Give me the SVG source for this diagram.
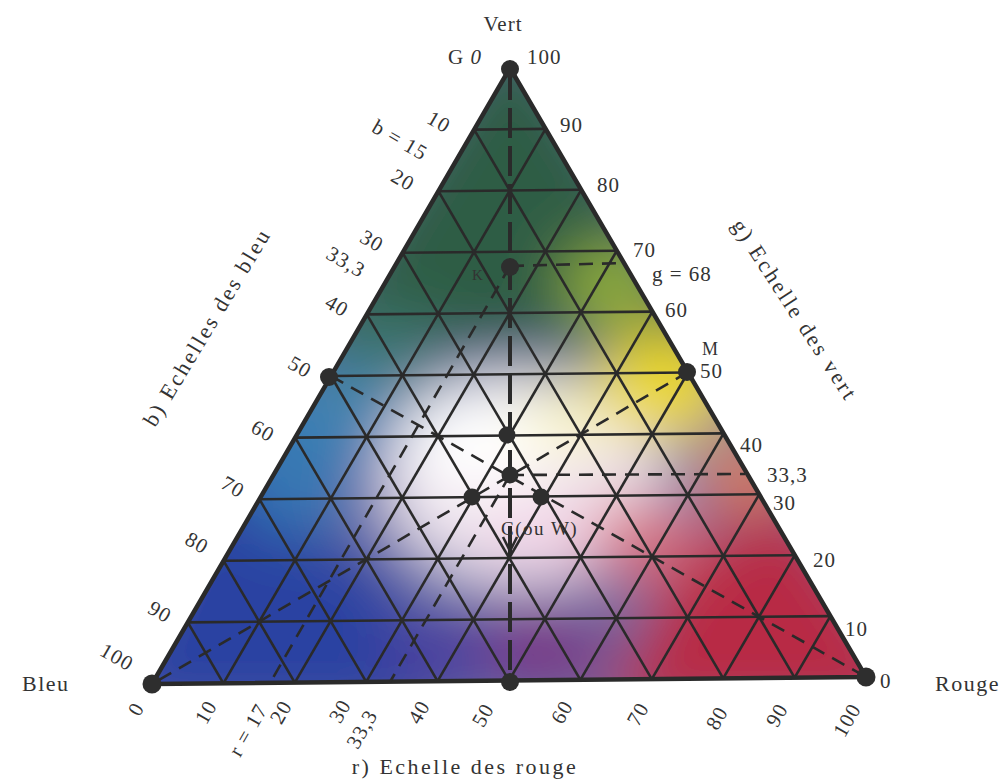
<svg xmlns="http://www.w3.org/2000/svg" width="1000" height="783" viewBox="0 0 1000 783">
<style>
  text{font-family:"Liberation Serif","DejaVu Serif",serif;fill:#333;font-size:21px;letter-spacing:1px}
  .title{font-size:22px;letter-spacing:2.5px}
  .grid line{stroke:#2a2a2a;stroke-width:2.6}
  .edge{fill:none;stroke:#2a2a2a;stroke-width:4.5;stroke-linejoin:round}
  .dash{stroke:#2a2a2a;stroke-width:2.6;stroke-dasharray:14 9;fill:none}
  .vdash{stroke:#2a2a2a;stroke-width:4;stroke-dasharray:30 8;fill:none}
  .dot{fill:#2e2e2e}
  .c{text-anchor:middle;dominant-baseline:central}
</style>
<defs>
  <clipPath id="tri"><polygon points="510,68 152,684 866,677"/></clipPath>
  <filter id="blur" x="-20%" y="-20%" width="140%" height="140%"><feGaussianBlur stdDeviation="30"/></filter>
</defs>
<rect width="1000" height="783" fill="#ffffff"/>

<g id="colour-field" clip-path="url(#tri)">
  <rect x="100" y="40" width="820" height="680" fill="#6a70a8"/>
  <g filter="url(#blur)">
    <rect x="60" y="0" width="900" height="760" fill="#6a70a8"/>
    <ellipse cx="525" cy="480" rx="140" ry="105" fill="#eee4ee"/>
    <polygon points="510,0 290,355 730,345" fill="#2d5d45"/>
    <ellipse cx="385" cy="350" rx="55" ry="40" fill="#3e7670"/>
    <ellipse cx="612" cy="285" rx="48" ry="42" fill="#93b03a"/>
    <polygon points="90,720 210,450 400,580 430,720" fill="#2b43a2"/>
    <ellipse cx="295" cy="455" rx="60" ry="80" fill="#3678b4"/>
    <ellipse cx="345" cy="405" rx="45" ry="40" fill="#3f86b0"/>
    <polygon points="600,720 680,540 800,500 950,720" fill="#b82c44"/>
    <ellipse cx="640" cy="540" rx="60" ry="40" fill="#d8707e"/>
    <ellipse cx="540" cy="650" rx="70" ry="45" fill="#7a3585"/>
    <ellipse cx="440" cy="655" rx="55" ry="45" fill="#4a3c9e"/>
    <ellipse cx="665" cy="385" rx="70" ry="55" fill="#ecd82a"/>
    <ellipse cx="745" cy="475" rx="45" ry="32" fill="#e58036"/>
    <ellipse cx="480" cy="440" rx="80" ry="55" fill="#ffffff"/>
    <ellipse cx="565" cy="420" rx="45" ry="35" fill="#fbf7c8"/>
    <ellipse cx="540" cy="535" rx="60" ry="35" fill="#f3d4e6"/>
  </g>
</g>

<g id="grid" class="grid">
  <line x1="187.8" y1="622.4" x2="830.4" y2="616.1"/>
  <line x1="223.6" y1="560.8" x2="794.8" y2="555.2"/>
  <line x1="259.4" y1="499.2" x2="759.2" y2="494.3"/>
  <line x1="295.2" y1="437.6" x2="723.6" y2="433.4"/>
  <line x1="331.0" y1="376.0" x2="688.0" y2="372.5"/>
  <line x1="366.8" y1="314.4" x2="652.4" y2="311.6"/>
  <line x1="402.6" y1="252.8" x2="616.8" y2="250.7"/>
  <line x1="438.4" y1="191.2" x2="581.2" y2="189.8"/>
  <line x1="474.2" y1="129.6" x2="545.6" y2="128.9"/>
  <line x1="223.4" y1="683.3" x2="545.6" y2="128.9"/>
  <line x1="294.8" y1="682.6" x2="581.2" y2="189.8"/>
  <line x1="366.2" y1="681.9" x2="616.8" y2="250.7"/>
  <line x1="437.6" y1="681.2" x2="652.4" y2="311.6"/>
  <line x1="509.0" y1="680.5" x2="688.0" y2="372.5"/>
  <line x1="580.4" y1="679.8" x2="723.6" y2="433.4"/>
  <line x1="651.8" y1="679.1" x2="759.2" y2="494.3"/>
  <line x1="723.2" y1="678.4" x2="794.8" y2="555.2"/>
  <line x1="794.6" y1="677.7" x2="830.4" y2="616.1"/>
  <line x1="223.4" y1="683.3" x2="187.8" y2="622.4"/>
  <line x1="294.8" y1="682.6" x2="223.6" y2="560.8"/>
  <line x1="366.2" y1="681.9" x2="259.4" y2="499.2"/>
  <line x1="437.6" y1="681.2" x2="295.2" y2="437.6"/>
  <line x1="509.0" y1="680.5" x2="331.0" y2="376.0"/>
  <line x1="580.4" y1="679.8" x2="366.8" y2="314.4"/>
  <line x1="651.8" y1="679.1" x2="402.6" y2="252.8"/>
  <line x1="723.2" y1="678.4" x2="438.4" y2="191.2"/>
  <line x1="794.6" y1="677.7" x2="474.2" y2="129.6"/>
</g>
<polygon id="triangle" class="edge" points="510,68 152,684 866,677"/>

<g id="connectors">
  <line class="vdash" x1="510" y1="70" x2="510" y2="681"/>
  <line class="dash" x1="510" y1="266" x2="624" y2="263"/>
  <line class="dash" x1="510" y1="475" x2="745" y2="474"/>
  <line class="dash" x1="510" y1="266" x2="270" y2="683"/>
  <line class="dash" x1="510" y1="475" x2="390" y2="682"/>
  <line class="dash" x1="331" y1="376" x2="866" y2="677"/>
  <line class="dash" x1="688" y1="372" x2="152" y2="684"/>
  <polyline points="503,537 510,551 517,537" fill="none" stroke="#2a2a2a" stroke-width="2.6"/>
</g>

<g id="points">
  <circle class="dot" cx="510" cy="69" r="9"/>
  <circle class="dot" cx="510" cy="267" r="9"/>
  <circle class="dot" cx="329" cy="377" r="9"/>
  <circle class="dot" cx="687" cy="372" r="9"/>
  <circle class="dot" cx="507" cy="435" r="8.5"/>
  <circle class="dot" cx="510" cy="475" r="8.5"/>
  <circle class="dot" cx="472" cy="497" r="8.5"/>
  <circle class="dot" cx="541" cy="497" r="8.5"/>
  <circle class="dot" cx="152" cy="684" r="9.5"/>
  <circle class="dot" cx="510" cy="682" r="9"/>
  <circle class="dot" cx="866" cy="677" r="9.5"/>
</g>

<g id="labels">
  <text x="503" y="31" text-anchor="middle">Vert</text>
  <text x="448" y="64">G <tspan font-style="italic">0</tspan></text>
  <text x="527" y="64">100</text>
  <text x="472" y="280" style="font-size:15px">K</text>
  <text x="501" y="535" style="font-size:19px;letter-spacing:1.5px">C(ou W)</text>
  <text x="22" y="691" style="font-size:22px;letter-spacing:1.5px">Bleu</text>
  <text x="935" y="691" style="font-size:22px;letter-spacing:1.5px">Rouge</text>

  <text x="560" y="132">90</text>
  <text x="597" y="192">80</text>
  <text x="633" y="257">70</text>
  <text x="652" y="281">g = 68</text>
  <text x="665" y="317">60</text>
  <text x="702" y="355" style="font-size:18px">M</text>
  <text x="700" y="378">50</text>
  <text x="740" y="452">40</text>
  <text x="767" y="482">33,3</text>
  <text x="773" y="510">30</text>
  <text x="813" y="567">20</text>
  <text x="845" y="636">10</text>
  <text x="880" y="688">0</text>

  <text class="c" x="439" y="122" transform="rotate(30 439 122)">10</text>
  <text class="c" x="400" y="140" transform="rotate(30 400 140)">b = 15</text>
  <text class="c" x="403" y="180" transform="rotate(30 403 180)">20</text>
  <text class="c" x="372" y="241" transform="rotate(30 372 241)">30</text>
  <text class="c" x="346" y="262" transform="rotate(30 346 262)">33,3</text>
  <text class="c" x="337" y="306" transform="rotate(30 337 306)">40</text>
  <text class="c" x="300" y="367" transform="rotate(30 300 367)">50</text>
  <text class="c" x="263" y="431" transform="rotate(30 263 431)">60</text>
  <text class="c" x="233" y="487" transform="rotate(30 233 487)">70</text>
  <text class="c" x="197" y="543" transform="rotate(30 197 543)">80</text>
  <text class="c" x="160" y="612" transform="rotate(30 160 612)">90</text>
  <text class="c" x="117" y="657" transform="rotate(30 117 657)">100</text>

  <text class="c" x="136" y="709" transform="rotate(-60 136 709)">0</text>
  <text class="c" x="206" y="712" transform="rotate(-60 206 712)">10</text>
  <text class="c" x="248" y="730" transform="rotate(-60 248 730)">r = 17</text>
  <text class="c" x="281" y="712" transform="rotate(-60 281 712)">20</text>
  <text class="c" x="340" y="711" transform="rotate(-60 340 711)">30</text>
  <text class="c" x="362" y="729" transform="rotate(-60 362 729)">33,3</text>
  <text class="c" x="419" y="712" transform="rotate(-60 419 712)">40</text>
  <text class="c" x="483" y="715" transform="rotate(-60 483 715)">50</text>
  <text class="c" x="562" y="712" transform="rotate(-60 562 712)">60</text>
  <text class="c" x="638" y="714" transform="rotate(-60 638 714)">70</text>
  <text class="c" x="717" y="718" transform="rotate(-60 717 718)">80</text>
  <text class="c" x="777" y="715" transform="rotate(-60 777 715)">90</text>
  <text class="c" x="847" y="720" transform="rotate(-60 847 720)">100</text>

  <text class="c title" x="207" y="327" transform="rotate(-59 207 327)">b) Echelles des bleu</text>
  <text class="c title" x="795" y="310" transform="rotate(57 795 310)">g) Echelle des vert</text>
  <text class="title" x="465" y="774" text-anchor="middle">r) Echelle des rouge</text>
</g>
</svg>
